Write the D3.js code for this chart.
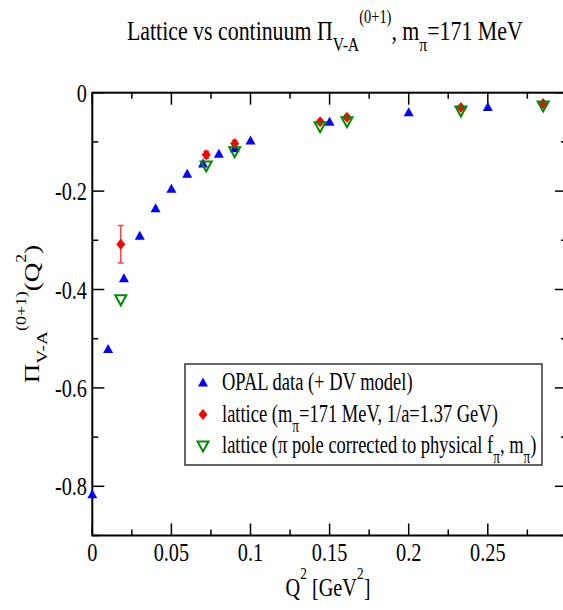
<!DOCTYPE html>
<html>
<head>
<meta charset="utf-8">
<script src="https://cdn.jsdelivr.net/npm/d3@7"></script>
<style>
  html, body { margin: 0; padding: 0; background: #fff; }
  svg { display: block; font-family: "Liberation Serif", "DejaVu Serif", serif; }
</style>
</head>
<body>
<svg id="chart" width="563" height="610"></svg>
<script>
/* ── data ── */
const Q2_OPAL = [0, 0.01, 0.02, 0.03, 0.04, 0.05, 0.06, 0.07, 0.08, 0.09, 0.10, 0.15, 0.20, 0.25];
const PI_OPAL = [-0.817, -0.522, -0.378, -0.292, -0.236, -0.196, -0.166, -0.145, -0.125, -0.114, -0.098, -0.060, -0.041, -0.030];

const Q2_LAT  = [0.018, 0.072, 0.090, 0.144, 0.161, 0.233, 0.285];
const PI_LAT  = [-0.308, -0.126, -0.103, -0.059, -0.050, -0.030, -0.022];
const ERR_LAT = [0.038, 0.007, 0.006, 0.004, 0.004, 0.003, 0.003];
const PI_COR  = [-0.421, -0.149, -0.120, -0.069, -0.059, -0.037, -0.027];

const X_TICKS = [0, 0.05, 0.1, 0.15, 0.2, 0.25, 0.3];
const X_TICK_LABELS = ["0", "0.05", "0.1", "0.15", "0.2", "0.25", ""];   // 0.3 falls outside the picture
const X_MINOR = [0.025, 0.075, 0.125, 0.175, 0.225, 0.275];
const Y_TICKS = [0, -0.2, -0.4, -0.6, -0.8];
const Y_TICK_LABELS = ["0", "-0.2", "-0.4", "-0.6", "-0.8"];
const Y_MINOR = [-0.1, -0.3, -0.5, -0.7, -0.9];

const LEGEND = [
  { sym: "up",   parts: [["OPAL data (+ DV model)"]] },
  { sym: "diam", parts: [["lattice (m"], ["\u03c0", "sub"], ["=171 MeV, 1/a=1.37 GeV)"]] },
  { sym: "down", parts: [["lattice (\u03c0 pole corrected to physical f"], ["\u03c0", "sub"], [", m"], ["\u03c0", "sub"], [")"]] }
];

const BLUE = "#0000ff", RED = "#ff0000", ERRC = "#f04848", GREEN = "#008a00";
const SX = 0.78;   // glyphs in the reference are horizontally squeezed

const svg = d3.select("#chart");
const x = d3.scaleLinear().domain([0, 0.3]).range([92.3, 566.9]);
const y = d3.scaleLinear().domain([-0.9, 0]).range([535.5, 92.7]);

/* text with xmgrace-like sub/superscripts */
function rich(sel, parts, size) {
  let off = 0;
  parts.forEach(([t, kind]) => {
    let target = 0, fs = size;
    if (kind === "sub") { target = 0.4 * size; fs = size * 0.72; }
    if (kind === "sup") { target = -0.64 * size; fs = size * 0.66; }
    sel.append("tspan").attr("font-size", fs).attr("dy", target - off).text(t);
    off = target;
  });
}

/* ── frame + ticks ── */
const [x0, x1] = x.range(), [y0, y1] = [y(0), y(-0.9)];
const gAx = svg.append("g").attr("stroke", "#000");
function tick(xa, ya, xb, yb, w) {
  gAx.append("line").attr("x1", xa).attr("y1", ya).attr("x2", xb).attr("y2", yb).attr("stroke-width", w);
}
X_TICKS.forEach(v => { tick(x(v), y1, x(v), y1 - 12, 1.5); tick(x(v), y0, x(v), y0 + 12, 1.5); });
X_MINOR.forEach(v => { tick(x(v), y1, x(v), y1 - 6, 1.5); tick(x(v), y0, x(v), y0 + 6, 1.5); });
Y_TICKS.forEach(v => { tick(x0, y(v), x0 + 12, y(v), 1.5); tick(x1, y(v), x1 - 12, y(v), 1.5); });
Y_MINOR.forEach(v => { tick(x0, y(v), x0 + 6, y(v), 1.5); tick(x1, y(v), x1 - 6, y(v), 1.5); });
svg.append("rect").attr("x", x0).attr("y", y0).attr("width", x1 - x0).attr("height", y1 - y0)
  .attr("fill", "none").attr("stroke", "#000").attr("stroke-width", 2);

/* tick labels */
X_TICKS.forEach((v, i) => {
  if (!X_TICK_LABELS[i]) return;
  svg.append("text").attr("transform", `translate(${x(v)},561) scale(${SX},1)`)
    .attr("text-anchor", "middle").attr("font-size", 26).text(X_TICK_LABELS[i]);
});
Y_TICKS.forEach((v, i) => {
  svg.append("text").attr("transform", `translate(87,${y(v) + 9}) scale(${SX},1)`)
    .attr("text-anchor", "end").attr("font-size", 26).text(Y_TICK_LABELS[i]);
});

/* title + axis titles */
const title = svg.append("text").attr("transform", `translate(127,40) scale(0.81,1)`).attr("font-size", 27);
rich(title, [["Lattice vs continuum \u03a0"], ["V-A", "sub"], ["(0+1)", "sup"], [", m"], ["\u03c0", "sub"], ["=171 MeV"]], 27);

const xl = svg.append("text").attr("transform", `translate(328,596) scale(${SX},1)`)
  .attr("text-anchor", "middle").attr("font-size", 26);
rich(xl, [["Q"], ["2", "sup"], [" [GeV"], ["2", "sup"], ["]"]], 26);

const yl = svg.append("text").attr("transform", `translate(39,314) rotate(-90) scale(1,${SX})`)
  .attr("text-anchor", "middle").attr("font-size", 27);
rich(yl, [["\u03a0"], ["V-A", "sub"], ["(0+1)", "sup"], ["(Q"], ["2", "sup"], [")"]], 27);

/* ── markers ── */
const shapes = {
  up:   "M0,-5.5L5,3.5L-5,3.5Z",
  diam: "M0,-5.5L4.5,0L0,5.5L-4.5,0Z",
  down: "M-5.5,-4.5L5.5,-4.5L0,5.5Z"
};
function marker(g, kind, cx, cy) {
  const p = g.append("path").attr("d", shapes[kind]).attr("transform", `translate(${cx},${cy})`);
  if (kind === "up") p.attr("fill", BLUE);
  if (kind === "diam") p.attr("fill", RED);
  if (kind === "down") p.attr("fill", "none").attr("stroke", GREEN).attr("stroke-width", 2);
  return p;
}

const gOpal = svg.append("g");
Q2_OPAL.forEach((q, i) => marker(gOpal, "up", x(q), y(PI_OPAL[i])));

const gLat = svg.append("g");
Q2_LAT.forEach((q, i) => {
  const yt = y(PI_LAT[i] + ERR_LAT[i]), yb = y(PI_LAT[i] - ERR_LAT[i]);
  gLat.append("line").attr("x1", x(q)).attr("x2", x(q)).attr("y1", yt).attr("y2", yb)
    .attr("stroke", ERRC).attr("stroke-width", 1.5);
  [yt, yb].forEach(yy => gLat.append("line").attr("x1", x(q) - 3).attr("x2", x(q) + 3)
    .attr("y1", yy).attr("y2", yy).attr("stroke", ERRC).attr("stroke-width", 1.5));
  marker(gLat, "diam", x(q), y(PI_LAT[i]));
});

const gCor = svg.append("g");
Q2_LAT.forEach((q, i) => marker(gCor, "down", x(q), y(PI_COR[i])));

/* ── legend ── */
const gLeg = svg.append("g");
gLeg.append("rect").attr("x", 185).attr("y", 364).attr("width", 357).attr("height", 101)
  .attr("fill", "#fff").attr("stroke", "#333").attr("stroke-width", 1.5);
LEGEND.forEach((e, i) => {
  const cy = 383 + i * 31.5;
  marker(gLeg, e.sym, 203, cy);
  const t = gLeg.append("text").attr("transform", `translate(222,${cy + 7}) scale(0.74,1)`).attr("font-size", 25);
  rich(t, e.parts, 25);
});
</script>
</body>
</html>
